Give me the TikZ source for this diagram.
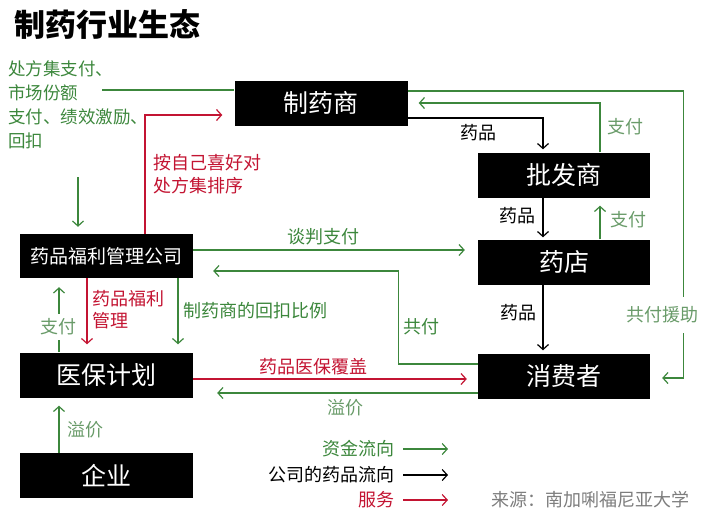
\documentclass[tikz,border=0pt]{standalone}
\usepackage{fontspec}
\setmainfont{Noto Sans CJK SC}
\usepackage{xcolor}
\usepackage{tikz}
\usetikzlibrary{calc,arrows.meta,positioning}
\definecolor{fundgreen}{RGB}{60,135,60}
\definecolor{paygreen}{RGB}{105,155,105}
\definecolor{servred}{RGB}{195,20,50}
\definecolor{srcgray}{RGB}{125,125,125}

\begin{document}
\begin{tikzpicture}[x=1pt,y=-1pt,
    party/.style={fill=black,text=white,minimum width=173pt,minimum height=45pt,inner sep=0pt,font=\fontsize{25}{25}\selectfont},
    lbl/.style={font=\fontsize{18}{24}\selectfont,inner sep=0pt,align=left},
    money/.style={draw=fundgreen,line width=1.2pt},
    goods/.style={draw=black,line width=1.2pt},
    serv/.style={draw=servred,line width=1.2pt},
    flow/.style={-{Straight Barb[length=5pt,width=11pt]}}]
        \useasboundingbox (0,0) rectangle (701,520);
        \node[font=\fontsize{31}{31}\selectfont\bfseries,anchor=west,inner sep=0pt] (title) at (14,24) {制药行业生态};
        % parties
        \node[party] (pharma) at (321,103) {制药商};
        \node[party,minimum width=172pt] (whole) at (564,175) {批发商};
        \node[party,minimum width=172pt] (store) at (564,262) {药店};
        \node[party,minimum width=172pt] (cons) at (564,376) {消费者};
        \node[party,font=\fontsize{19}{19}\selectfont,minimum height=44pt] (pbm) at (106.5,256) {药品福利管理公司};
        \node[party] (plan) at (106.5,375) {医保计划};
        \node[party] (firm) at (106.5,475.5) {企业};
        % pharma <-> pbm
        \node[lbl,text=fundgreen,anchor=north west,font=\fontsize{17.5}{24}\selectfont] (rebatetxt) at (8,60) {处方集支付、\\市场份额\\支付、绩效激励、\\回扣};
        \coordinate (rebate) at (102,90);
        \draw[money] (rebate) -- (rebate -| pharma.west);
        \coordinate (down) at (78,177);
        \draw[money,flow,shorten >=7pt] (down) -- (down |- pbm.north);
        \draw[serv,flow,shorten >=12pt] ($(pbm.north)+(38.5,0)$) |- ($(pharma.west)+(0,12)$);
        \node[lbl,text=servred,anchor=west,font=\fontsize{18}{23}\selectfont] (sorttxt) at (153,174) {按自己喜好对\\处方集排序};
        % supply chain
        \draw[goods,flow,shorten >=3pt] ($(pharma.east)+(0,15)$) -| ($(whole.north)+(-21,0)$);
        \node[lbl] (g1) at (478,133) {药品};
        \draw[money,flow,shorten >=11pt] ($(whole.north)+(36,0)$) |- (pharma.east);
        \node[lbl,text=paygreen] (p1) at (625,127) {支付};
        \draw[money,flow,shorten >=12pt] ($(pharma.east)+(0,-12)$) -| ($(cons.east)+(33,0)$) |- ($(cons.east)+(0,2)$);
        \node[lbl,text=paygreen,fill=white,inner ysep=10pt,inner xsep=1pt] (aid) at (662,315) {共付援助};
        \draw[goods,flow,shorten >=2pt] ($(whole.south)+(-21,0)$) -- ($(store.north)+(-21,0)$);
        \node[lbl] (g2) at (517,216) {药品};
        \draw[money,flow,shorten >=8pt] ($(store.north)+(36,0)$) -- ($(whole.south)+(36,0)$);
        \node[lbl,text=paygreen] (p2) at (628,220) {支付};
        \draw[goods,flow,shorten >=3pt] ($(store.south)+(-21,0)$) -- ($(cons.north)+(-21,0)$);
        \node[lbl] (g3) at (518,313) {药品};
        % middle
        \draw[money,flow,shorten >=13pt] ($(pbm.east)+(0,-6)$) -- ($(store.west)+(0,-12)$);
        \node[lbl,text=fundgreen] (nego) at (323,237) {谈判支付};
        \draw[money,flow,shorten >=20pt] ($(cons.west)+(0,-12)$) -| ($(pbm.east)+(205,15)$) -- ($(pbm.east)+(0,15)$);
        \node[lbl,text=fundgreen] (copay) at (421,327) {共付};
        \draw[serv,flow,shorten >=11pt] ($(plan.east)+(0,4)$) -- ($(cons.west)+(0,3)$);
        \node[lbl,text=servred] (cover) at (313,367) {药品医保覆盖};
        \draw[money,flow,shorten >=24pt] ($(cons.west)+(0,17)$) -- ($(plan.east)+(0,18)$);
        \node[lbl,text=paygreen] (prem1) at (345,408) {溢价};
        % left column
        \draw[serv,flow,shorten >=8pt] ($(pbm.south)+(-19.5,0)$) -- ($(plan.north)+(-19.5,0)$);
        \node[lbl,text=servred,anchor=west,font=\fontsize{18}{22}\selectfont] (mgmt) at (92,310) {药品福利\\管理};
        \draw[money,flow,shorten >=9pt] ($(plan.north)+(-47.5,0)$) -- ($(pbm.south)+(-47.5,0)$);
        \node[lbl,text=paygreen,fill=white,inner ysep=5pt] (p3) at (58,327) {支付};
        \draw[money,flow,shorten >=8pt] ($(pbm.south)+(71.5,0)$) -- ($(plan.north)+(71.5,0)$);
        \node[lbl,text=fundgreen,anchor=west] (ratio) at (183,311) {制药商的回扣比例};
        \draw[money,flow,shorten >=8pt] ($(firm.north)+(-47.5,0)$) -- ($(plan.south)+(-47.5,0)$);
        \node[lbl,text=paygreen,anchor=west] (prem2) at (67,430) {溢价};
        % legend
        \foreach \txt/\col/\y in {资金流向/fundgreen/449,公司的药品流向/black/475,服务/servred/500}{
          \node[lbl,text=\col,anchor=east] (key\y) at (395,\y) {\txt};
          \draw[draw=\col,line width=1.2pt,flow] (key\y.east) ++(8,0) -- ++(45,0);
        }
        \node[lbl,text=srcgray,anchor=west] (src) at (491,500) {来源：南加唎福尼亚大学};
      \end{tikzpicture}
\end{document}
